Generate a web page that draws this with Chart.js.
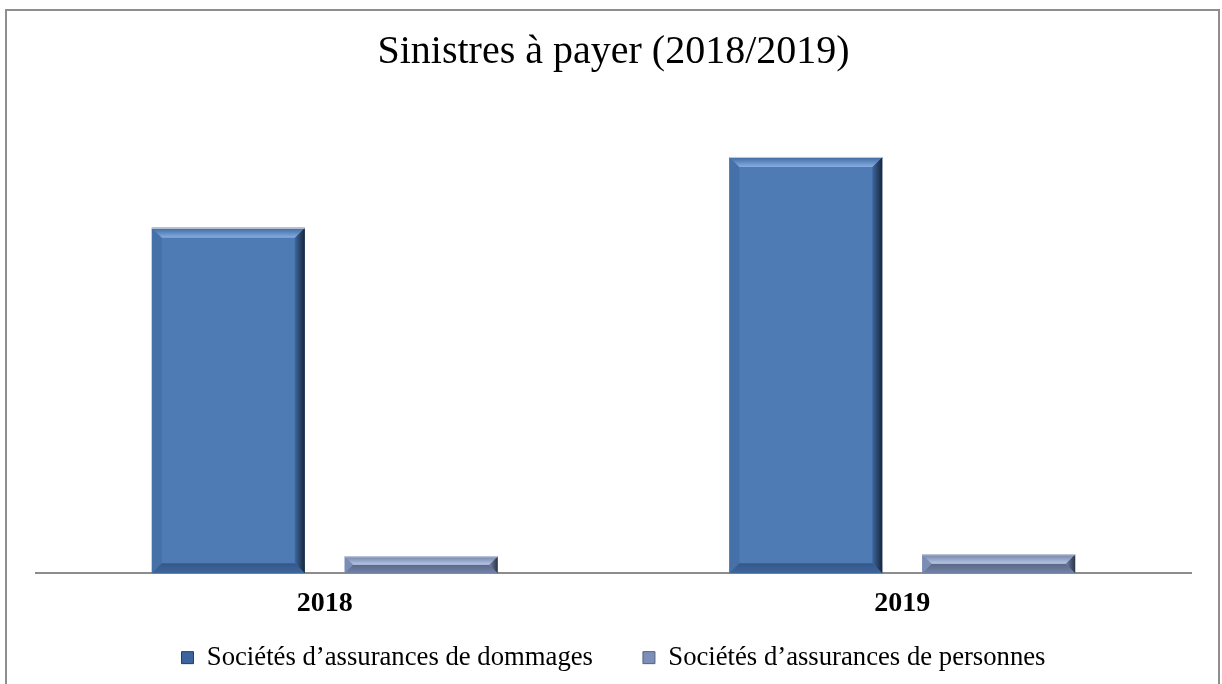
<!DOCTYPE html>
<html>
<head>
<meta charset="utf-8">
<script src="https://cdn.jsdelivr.net/npm/chart.js@4/dist/chart.umd.min.js"></script>
<style>
  html, body { margin: 0; padding: 0; background: #ffffff; overflow: hidden; }
  #wrap { position: absolute; left: 0; top: 0; width: 1222px; height: 684px; }
  #frame { position: absolute; left: 5px; top: 9px; width: 1215px; height: 700px; border: 2px solid #8e8e8e; box-sizing: border-box; pointer-events: none; }
</style>
</head>
<body>
<div id="wrap">
  <canvas id="c" width="1222" height="684"></canvas>
  <div id="frame"></div>
</div>
<script>
const chartTitle = "Sinistres à payer (2018/2019)";
const categories = ["2018", "2019"];
const seriesNames = ["Sociétés d’assurances de dommages", "Sociétés d’assurances de personnes"];
const dommages = [69.2, 83.4];
const personnes = [3.4, 3.8];
const yMax = 94.8;

const palette = [
  { main: "#4f7bb4", light: "#86aee2", mid: "#3d679e", dark: "#17263b", bottom: "#35578a", left: "#4570a8", edge: "#c9d3e0" },
  { main: "#8496bd", light: "#b5c6e6", mid: "#7383a8", dark: "#2b3446", bottom: "#5b6986", left: "#7b8db5", edge: "#d3d8e2" }
];

const bevelPlugin = {
  id: "bevel",
  afterDatasetsDraw(chart) {
    const ctx = chart.ctx;
    chart.data.datasets.forEach((ds, di) => {
      const meta = chart.getDatasetMeta(di);
      const p = palette[di];
      meta.data.forEach(el => {
        const l = el.x - el.width / 2, r = el.x + el.width / 2;
        const t = el.y, bt = el.base;
        const h = bt - t;
        const b = Math.min(10, h / 2);
        ctx.save();
        ctx.fillStyle = p.left;
        ctx.beginPath(); ctx.moveTo(l, t); ctx.lineTo(l + b, t + b); ctx.lineTo(l + b, bt - b); ctx.lineTo(l, bt); ctx.closePath(); ctx.fill();
        let g = ctx.createLinearGradient(0, bt - b, 0, bt);
        g.addColorStop(0, p.bottom); g.addColorStop(1, p.mid);
        ctx.fillStyle = g;
        ctx.beginPath(); ctx.moveTo(l, bt); ctx.lineTo(l + b, bt - b); ctx.lineTo(r - b, bt - b); ctx.lineTo(r, bt); ctx.closePath(); ctx.fill();
        g = ctx.createLinearGradient(r - b, 0, r, 0);
        g.addColorStop(0, p.mid); g.addColorStop(1, p.dark);
        ctx.fillStyle = g;
        ctx.beginPath(); ctx.moveTo(r, t); ctx.lineTo(r - b, t + b); ctx.lineTo(r - b, bt - b); ctx.lineTo(r, bt); ctx.closePath(); ctx.fill();
        g = ctx.createLinearGradient(0, t, 0, t + b);
        g.addColorStop(0, p.mid); g.addColorStop(1, p.light);
        ctx.fillStyle = g;
        ctx.beginPath(); ctx.moveTo(l, t); ctx.lineTo(r, t); ctx.lineTo(r - b, t + b); ctx.lineTo(l + b, t + b); ctx.closePath(); ctx.fill();
        ctx.strokeStyle = p.edge; ctx.lineWidth = 1;
        ctx.beginPath(); ctx.moveTo(l, t + 0.5); ctx.lineTo(r, t + 0.5); ctx.stroke();
        ctx.restore();
      });
    });
  }
};

new Chart(document.getElementById("c"), {
  type: "bar",
  data: {
    labels: categories,
    datasets: [
      { label: seriesNames[0], data: dommages, backgroundColor: palette[0].main, borderWidth: 0, categoryPercentage: 0.668, barPercentage: 0.793 },
      { label: seriesNames[1], data: personnes, backgroundColor: palette[1].main, borderWidth: 0, categoryPercentage: 0.668, barPercentage: 0.793 }
    ]
  },
  options: {
    responsive: false,
    animation: false,
    layout: { padding: { left: 36, right: 31, top: 0, bottom: 3 } },
    plugins: {
      title: {
        display: true,
        text: chartTitle,
        color: "#000000",
        font: { family: "Liberation Serif", size: 40, weight: "normal", lineHeight: 1.2 },
        padding: { top: 28, bottom: 24 }
      },
      legend: {
        display: true,
        position: "bottom",
        labels: {
          color: "#000000",
          font: { family: "Liberation Serif", size: 26.7 },
          boxWidth: 12,
          boxHeight: 12,
          padding: 50,
          generateLabels(chart) {
            return chart.data.datasets.map((ds, i) => ({
              text: ds.label,
              fillStyle: i === 0 ? "#3b659c" : "#7d8fb8",
              strokeStyle: i === 0 ? "#23405f" : "#55627d",
              lineWidth: 1,
              hidden: false,
              datasetIndex: i
            }));
          }
        }
      },
      tooltip: { enabled: false }
    },
    scales: {
      x: {
        grid: { display: false, drawTicks: false },
        border: { display: true, color: "#8c8c8c", width: 2 },
        ticks: { color: "#000000", font: { family: "Liberation Serif", size: 28, weight: "bold" }, padding: 14 },
        afterFit(scale) {
          scale.height = 21;
          scale._computeLabelArea = function () { return undefined; };
        }
      },
      y: {
        display: false,
        min: 0,
        max: yMax
      }
    }
  },
  plugins: [bevelPlugin]
});
</script>
</body>
</html>
